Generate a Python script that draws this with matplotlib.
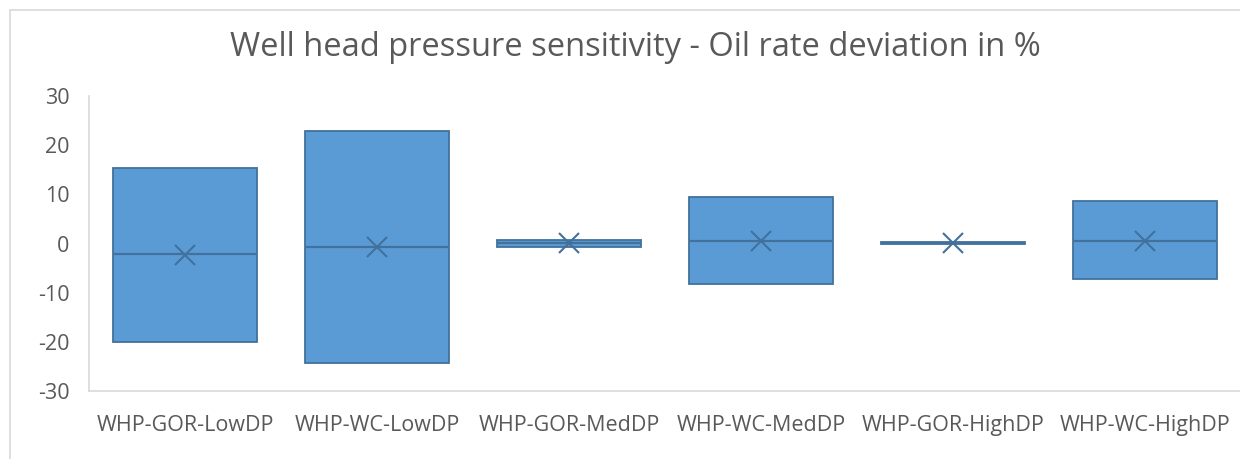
import matplotlib
matplotlib.use("Agg")
import matplotlib.pyplot as plt
from matplotlib.patches import Rectangle

# Box statistics per scenario (oil rate deviation, %)
categories = ["WHP-GOR-LowDP", "WHP-WC-LowDP", "WHP-GOR-MedDP",
              "WHP-WC-MedDP", "WHP-GOR-HighDP", "WHP-WC-HighDP"]
q1_values = [-20.0, -24.3, -0.8, -8.3, -0.1, -7.3]
q3_values = [15.4, 22.8, 0.8, 9.5, 0.35, 8.7]
median_values = [-2.2, -0.7, 0.1, 0.6, 0.1, 0.5]
mean_values = [-2.4, -0.7, 0.05, 0.6, 0.1, 0.5]
y_ticks = [-30, -20, -10, 0, 10, 20, 30]

FILL = "#5B9BD5"
EDGE = "#41719C"
TEXT = "#595959"
GRID = "#D9D9D9"

plt.rcParams["font.family"] = ["Open Sans", "DejaVu Sans"]
plt.rcParams["axes.unicode_minus"] = False

fig = plt.figure(figsize=(12.4, 4.59), dpi=100)
fig.patch.set_facecolor("white")

# Chart area border
fig.add_artist(Rectangle((10 / 1240, -0.1), 1.2, 1 - 10 / 459 + 0.1,
                         transform=fig.transFigure, fill=False,
                         edgecolor=GRID, linewidth=1.2))

ax = fig.add_axes([89 / 1240, (459 - 391) / 459, 1152 / 1240, 295 / 459])

stats = []
for lbl, q1, q3, med, mean in zip(categories, q1_values, q3_values,
                                  median_values, mean_values):
    stats.append(dict(label=lbl, q1=q1, q3=q3, med=med, mean=mean,
                      whislo=q1, whishi=q3, fliers=[]))

ax.bxp(stats, positions=range(len(categories)), widths=0.755,
       patch_artist=True, showmeans=True, showcaps=False,
       boxprops=dict(facecolor=FILL, edgecolor=EDGE, linewidth=1.3),
       medianprops=dict(color=EDGE, linewidth=1.6),
       whiskerprops=dict(color=EDGE, linewidth=0),
       meanprops=dict(marker="x", markeredgecolor=EDGE, markersize=14,
                      markeredgewidth=1.5))

ax.set_xlim(-0.5, len(categories) - 0.5)
ax.set_ylim(-30, 30)
ax.set_yticks(y_ticks)
ax.set_xticks(range(len(categories)))
ax.set_xticklabels(categories)
ax.tick_params(axis="both", length=0, labelsize=15.5, colors=TEXT)
ax.tick_params(axis="y", pad=14)
ax.tick_params(axis="x", pad=17)

for side in ("top", "right"):
    ax.spines[side].set_visible(False)
for side in ("left", "bottom"):
    ax.spines[side].set_color(GRID)
    ax.spines[side].set_linewidth(1.2)

fig.text(635 / 1240, 1 - 47 / 459, "Well head pressure sensitivity - Oil rate deviation in %",
         ha="center", va="center", fontsize=23.5, color=TEXT)

fig.savefig("out.png", dpi=100, facecolor="white")
